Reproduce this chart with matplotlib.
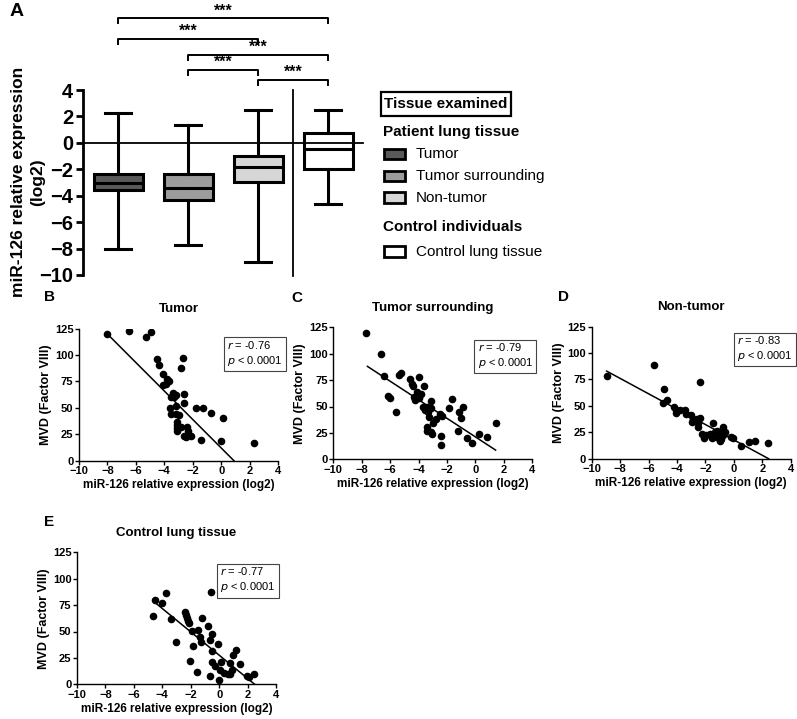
import matplotlib
matplotlib.use("Agg")
import matplotlib.pyplot as plt
from matplotlib.patches import Rectangle
import numpy as np

plt.rcParams["font.family"] = ["Liberation Sans", "DejaVu Sans"]

# ---- Panel A: box plot data (log2 relative expression) ----
groups = ["Tumor", "Tumor surrounding", "Non-tumor", "Control lung tissue"]
box_colors = ["#595959", "#9c9c9c", "#d6d6d6", "#ffffff"]
whisk_lo = [-8.0, -7.7, -9.0, -4.6]
q1 = [-3.53, -4.33, -2.95, -1.96]
medians = [-3.02, -3.40, -1.86, -0.50]
q3 = [-2.37, -2.39, -0.96, 0.78]
whisk_hi = [2.25, 1.35, 2.45, 2.5]

# significance brackets: (group i, group j, level)
sig_pairs = [(1, 4), (1, 3), (2, 4), (2, 3), (3, 4)]
sig_levels = [9.42, 7.85, 6.65, 5.5, 4.75]

# ---- Panels B-E: scatter data ----
tumor_x = [-8.0, -6.5, -5.3, -4.9, -4.5, -4.4, -2.7, -2.8, -4.1, -3.8, -3.7, -4.1, -3.9,
           -3.4, -3.3, -3.5, -3.2, -2.6, -2.6, -3.6, -3.2, -1.8, -1.3, -0.7, 0.1,
           -3.5, -3.2, -2.95, -3.1, -3.1, -3.1, -3.1, -2.8, -2.4, -2.3, -2.6, -2.5,
           -2.3, -2.1, -1.4, 0.0, 2.3]
tumor_y = [120, 123, 117, 122, 96, 91, 97, 88, 82, 77, 75, 72, 73,
           64, 60, 60, 62, 63, 55, 50, 52, 50, 50, 45, 40,
           44, 44, 43, 37, 34, 31, 28, 32, 32, 28, 23, 22,
           24, 23, 20, 19, 17]

surr_x = [-7.68, -6.67, -6.4, -6.17, -5.98, -5.58, -5.37, -5.27, -4.6, -4.47, -4.4,
          -3.95, -3.6, -4.1, -3.83, -4.3, -4.23, -4.0, -3.7, -3.43, -3.55, -3.36,
          -3.24, -3.14, -3.12, -3.38, -3.38, -3.1, -3.05, -2.98, -2.8, -2.5, -2.36,
          -2.39, -2.39, -1.84, -1.65, -1.2, -1.13, -1.04, -0.9, -0.6, -0.26, 0.28,
          0.83, 1.42]
surr_y = [120, 100, 79, 60, 58, 45, 79.5, 82, 76, 71, 69,
          78, 69, 64, 62, 59, 56, 58, 50, 50, 47, 45,
          40, 55, 49, 31, 27, 26, 24, 34, 38, 43, 41,
          22, 14, 49, 57, 27, 45, 39, 50, 20, 15.5, 23.6,
          21, 34]

non_x = [-8.95, -5.65, -4.88, -5.0, -4.72, -4.23, -4.04, -4.1, -3.77, -3.47, -3.4,
         -3.0, -2.9, -2.93, -2.6, -2.52, -2.4, -2.36, -2.52, -2.24, -2.13, -1.94,
         -1.71, -1.48, -1.52, -1.36, -1.2, -1.08, -0.94, -0.9, -0.77, -0.77, -0.6,
         -0.19, -0.07, 0.49, 1.05, 1.5, 2.43, -1.0, -1.25]
non_y = [78, 89, 66, 53, 56, 49, 46, 43, 46, 46, 42,
         41, 38, 34.5, 38, 34, 73, 39, 30, 23, 20, 22,
         23.4, 34, 20, 25, 26.6, 23, 25.6, 19, 30, 22, 25,
         21, 20, 12, 16, 17, 15, 17, 21]

ctrl_x = [-4.68, -4.52, -4.0, -3.76, -3.36, -3.0, -2.42, -2.35, -2.28, -2.2, -2.12,
          -2.07, -1.88, -1.86, -1.53, -1.46, -1.34, -1.27, -1.18, -0.75, -0.64,
          -0.64, -0.59, -0.52, -0.52, -0.47, -0.31, -0.1, 0.02, 0.07, 0.12, 0.35,
          0.59, 0.78, 0.75, 0.9, 0.94, 1.18, 1.5, 1.93, 2.12, 2.47]
ctrl_y = [64.6, 79.4, 77, 86, 62, 39.6, 68, 66, 63, 60, 58,
          22.5, 50.6, 35.8, 12, 51.6, 45, 40.5, 63, 55, 8,
          41.5, 87, 48, 31.6, 21.5, 17.7, 38, 4, 13.6, 21.5, 10.4,
          9.5, 9.8, 20, 13.6, 28, 32.6, 19.6, 8, 7.3, 10]

# regression line: slope, intercept, x start, x end
fit_params = {
    "B": (-13.48, 12.1, -8.0, 0.9),
    "C": (-8.79, 21.2, -7.6, 1.42),
    "D": (-7.28, 17.8, -8.95, 2.45),
    "E": (-11.04, 27.6, -4.52, 2.5),
}
r_values = {"B": "-0.76", "C": "-0.79", "D": "-0.83", "E": "-0.77"}
p_text = "0.0001"

W, H = 797, 719
fig = plt.figure(figsize=(W / 100, H / 100), dpi=100)


def fx(x):
    return x / W


def fy(y):
    return 1 - y / H


# ================= Panel A =================
axA = fig.add_axes([fx(83), fy(275), 280 / W, 185 / H])
stats = []
for i in range(len(groups)):
    stats.append(dict(med=medians[i], q1=q1[i], q3=q3[i],
                      whislo=whisk_lo[i], whishi=whisk_hi[i], fliers=[]))
lw = 2.2
bp = axA.bxp(stats, positions=[1, 2, 3, 4], widths=0.7, patch_artist=True,
             showfliers=False,
             boxprops=dict(linewidth=lw, edgecolor="black"),
             medianprops=dict(color="black", linewidth=lw),
             whiskerprops=dict(color="black", linewidth=lw),
             capprops=dict(color="black", linewidth=lw),
             capwidths=0.36)
for patch, c in zip(bp["boxes"], box_colors):
    patch.set_facecolor(c)

axA.set_xlim(0.5, 4.5)
axA.set_ylim(-10, 4)
axA.axhline(0, color="black", linewidth=1.3, xmax=1.0, clip_on=False)
axA.plot([3.5, 3.5], [4.0, -10.1], color="black", linewidth=1.3, clip_on=False)
axA.spines["top"].set_visible(False)
axA.spines["right"].set_visible(False)
axA.spines["bottom"].set_visible(False)
axA.spines["left"].set_linewidth(2.0)
axA.set_xticks([])
axA.set_yticks(np.arange(-10, 5, 2))
axA.tick_params(axis="y", width=2.0, length=5, labelsize=14.5, pad=2)
for lab in axA.get_yticklabels():
    lab.set_fontweight("bold")

# two-line y label, drawn as two rotated texts
fig.text(fx(19), fy(182), "miR-126 relative expression", rotation=90,
         ha="center", va="center", fontsize=12.5, fontweight="bold")
fig.text(fx(38), fy(182), "(log2)", rotation=90, ha="center", va="center",
         fontsize=12.5, fontweight="bold")

drop = 0.38
for (a, b), lev in zip(sig_pairs, sig_levels):
    axA.plot([a, a, b, b], [lev - drop, lev, lev, lev - drop], color="black",
             linewidth=1.4, clip_on=False)
    axA.text((a + b) / 2, lev + 0.22, "***", ha="center", va="baseline",
             fontsize=11.5, fontweight="bold", clip_on=False)

fig.text(fx(10), fy(12), "A", fontsize=14, fontweight="bold", va="center")

# legend
fig.add_artist(Rectangle((fx(381), fy(116)), (511 - 381) / W, (116 - 92) / H,
                         transform=fig.transFigure, facecolor="white",
                         edgecolor="black", linewidth=1.6))
fig.text(fx(446), fy(104.5), "Tissue examined", ha="center", va="center",
         fontsize=11, fontweight="bold")
fig.text(fx(383), fy(132), "Patient lung tissue", ha="left", va="center",
         fontsize=11, fontweight="bold")
fig.text(fx(383), fy(227), "Control individuals", ha="left", va="center",
         fontsize=11, fontweight="bold")
legend_rows = [154, 176, 197.5, 251.5]
for yy, name, c in zip(legend_rows, groups, box_colors):
    fig.add_artist(Rectangle((fx(384), fy(yy + 5)), 21 / W, 10 / H,
                             transform=fig.transFigure, facecolor=c,
                             edgecolor="black", linewidth=2.0))
    fig.text(fx(416), fy(yy), name, ha="left", va="center", fontsize=11)


# ================= Panels B-E =================
def scatter_panel(rect, xs, ys, key, title, letter, letter_xy, box_xy):
    ax = fig.add_axes(rect)
    ax.scatter(xs, ys, s=20, color="black", zorder=3)
    m, c, x0, x1 = fit_params[key]
    lx = np.array([x0, x1])
    ax.plot(lx, m * lx + c, color="black", linewidth=1.1)
    ax.set_xlim(-10, 4)
    ax.set_ylim(0, 125)
    ax.set_xticks(np.arange(-10, 5, 2))
    ax.set_yticks([0, 25, 50, 75, 100, 125])
    ax.spines["top"].set_visible(False)
    ax.spines["right"].set_visible(False)
    ax.spines["left"].set_linewidth(1.0)
    ax.spines["bottom"].set_linewidth(1.0)
    ax.tick_params(labelsize=8, length=3, width=1.0, pad=1)
    for lab in ax.get_xticklabels() + ax.get_yticklabels():
        lab.set_fontweight("bold")
    ax.set_xlabel("miR-126 relative expression (log2)", fontsize=8.5,
                  fontweight="bold", labelpad=2)
    ax.set_ylabel("MVD (Factor VIII)", fontsize=9, fontweight="bold",
                  labelpad=2)
    ax.set_title(title, fontsize=9.5, fontweight="bold", pad=12)
    ax.text(box_xy[0], box_xy[1],
            r"$\it{r}$ = " + r_values[key] + "\n" + r"$\it{p}$ < " + p_text,
            transform=ax.transAxes, ha="left", va="top", fontsize=8,
            linespacing=1.3, clip_on=False,
            bbox=dict(boxstyle="square,pad=0.3", facecolor="white",
                      edgecolor="#444444", linewidth=0.8))
    fig.text(fx(letter_xy[0]), fy(letter_xy[1]), letter, fontsize=11,
             fontweight="bold", va="center")
    return ax


pw, ph = 199 / W, 132 / H
scatter_panel([fx(79), fy(460.7), pw, ph], tumor_x, tumor_y, "B", "Tumor",
              "B", (44, 297), (0.745, 0.925))
scatter_panel([fx(333.3), fy(459.3), pw, ph], surr_x, surr_y, "C",
              "Tumor surrounding", "C", (291, 298), (0.725, 0.895))
scatter_panel([fx(591.7), fy(458.7), pw, ph], non_x, non_y, "D", "Non-tumor",
              "D", (558, 297), (0.73, 0.945))
scatter_panel([fx(77), fy(684.3), pw, ph], ctrl_x, ctrl_y, "E",
              "Control lung tissue", "E", (44, 522), (0.72, 0.9))

fig.savefig("out.png", dpi=100)
